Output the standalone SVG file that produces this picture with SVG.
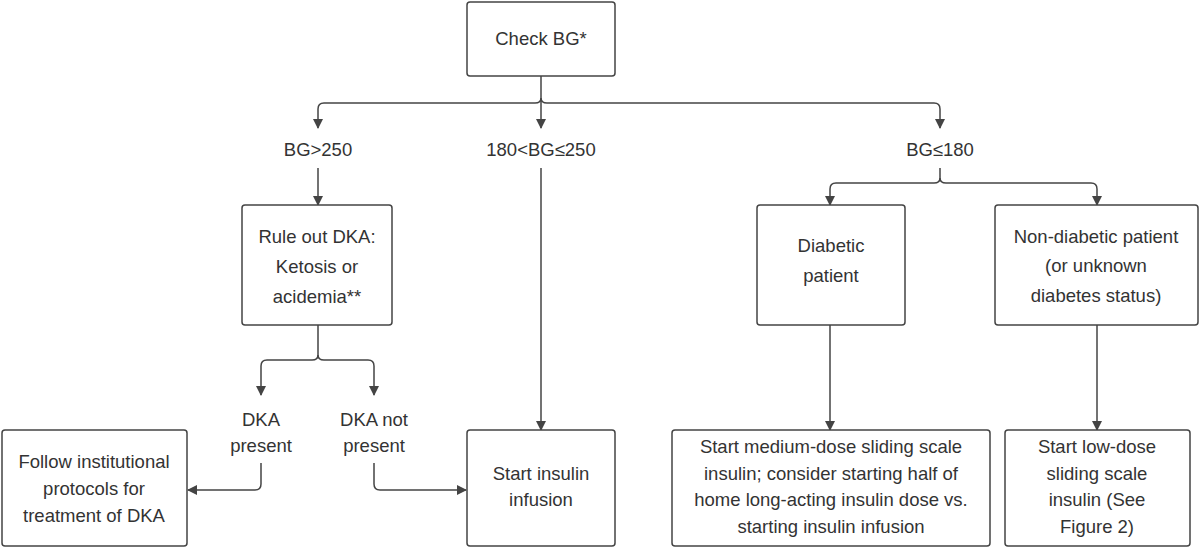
<svg xmlns="http://www.w3.org/2000/svg" width="1200" height="550" viewBox="0 0 1200 550">
<defs>
<marker id="a" markerWidth="10" markerHeight="10" refX="9" refY="5" orient="auto" markerUnits="userSpaceOnUse"><path d="M0,0 L10,5 L0,10 Z" fill="#444"/></marker>
<style>
.box{fill:#fff;stroke:#444;stroke-width:1.5}
text{font-family:"Liberation Sans",Arial,sans-serif;font-size:18.5px;fill:#333;text-anchor:middle}
.c{fill:none;stroke:#444;stroke-width:1.5;marker-end:url(#a)}
.l{fill:none;stroke:#444;stroke-width:1.5}
</style>
</defs>
<rect width="1200" height="550" fill="#fff"/>
<g id="connectors">
<path class="l" d="M541,76 V98"/>
<path class="c" d="M535,103 H324 Q318,103 318,109 V128"/>
<path class="c" d="M541,98 V128"/>
<path class="c" d="M547,103 H934 Q940,103 940,109 V128"/>
<path class="l" d="M535,103 Q541,103 541,98 Q541,103 547,103"/>
<path class="c" d="M318,168 V205"/>
<path class="c" d="M541,168 V430"/>
<path class="c" d="M318,325 V355 Q318,360 312,360 H267 Q261,360 261,366 V395"/>
<path class="c" d="M318,355 Q318,360 324,360 H368 Q374,360 374,366 V395"/>
<path class="c" d="M261,463 V484 Q261,490 255,490 H188"/>
<path class="c" d="M374,463 V484 Q374,490 380,490 H466"/>
<path class="c" d="M940,168 V178 Q940,183 934,183 H836 Q830,183 830,189 V205"/>
<path class="c" d="M940,178 Q940,183 946,183 H1091 Q1097,183 1097,189 V205"/>
<path class="c" d="M830,325 V430"/>
<path class="c" d="M1097,325 V430"/>
</g>
<g id="check"><rect class="box" x="467" y="2" width="148" height="74" rx="3"/><text x="541" y="45">Check BG*</text></g>
<g id="l1"><text x="318" y="156">BG&gt;250</text></g>
<g id="l2"><text x="541" y="156">180&lt;BG≤250</text></g>
<g id="l3"><text x="940" y="156">BG≤180</text></g>
<g id="rule"><rect class="box" x="242" y="205" width="150" height="120" rx="3"/><text x="317" y="243">Rule out DKA:</text><text x="317" y="273">Ketosis or</text><text x="317" y="303">acidemia**</text></g>
<g id="dkap"><text x="261" y="426">DKA</text><text x="261" y="452">present</text></g>
<g id="dkan"><text x="374" y="426">DKA not</text><text x="374" y="452">present</text></g>
<g id="follow"><rect class="box" x="2" y="430" width="185" height="116" rx="3"/><text x="94" y="468">Follow institutional</text><text x="94" y="495">protocols for</text><text x="94" y="522">treatment of DKA</text></g>
<g id="infusion"><rect class="box" x="467" y="430" width="148" height="116" rx="3"/><text x="541" y="480">Start insulin</text><text x="541" y="506">infusion</text></g>
<g id="diab"><rect class="box" x="757" y="205" width="148" height="120" rx="3"/><text x="831" y="252">Diabetic</text><text x="831" y="282">patient</text></g>
<g id="nondiab"><rect class="box" x="995" y="205" width="203" height="120" rx="3"/><text x="1096" y="243">Non-diabetic patient</text><text x="1096" y="272">(or unknown</text><text x="1096" y="302">diabetes status)</text></g>
<g id="medium"><rect class="box" x="672" y="430" width="318" height="116" rx="3"/><text x="831" y="453">Start medium-dose sliding scale</text><text x="831" y="480">insulin; consider starting half of</text><text x="831" y="506">home long-acting insulin dose vs.</text><text x="831" y="533">starting insulin infusion</text></g>
<g id="low"><rect class="box" x="1005" y="430" width="185" height="116" rx="3"/><text x="1097" y="453">Start low-dose</text><text x="1097" y="480">sliding scale</text><text x="1097" y="506">insulin (See</text><text x="1097" y="533">Figure 2)</text></g>
</svg>
